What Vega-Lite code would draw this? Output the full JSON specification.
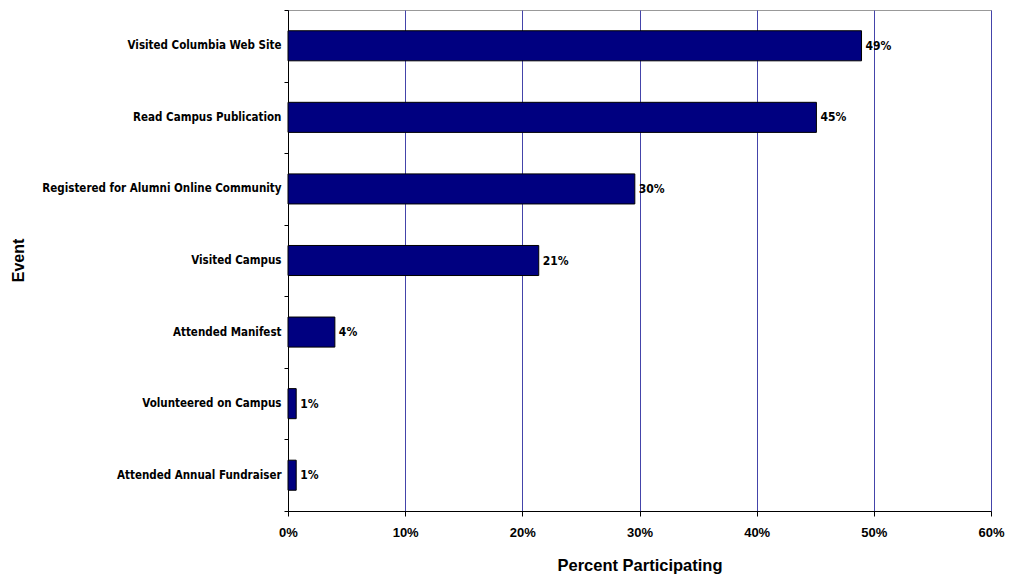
{
  "$schema": "https://vega.github.io/schema/vega-lite/v6.json",
  "autosize": {"type": "none"},
  "padding": {"left": 288, "top": 10, "right": 18, "bottom": 66},
  "width": 703,
  "height": 501,
  "background": "white",
  "config": {
    "view": {"stroke": "#999999", "strokeWidth": 1},
    "font": "Liberation Sans"
  },
  "data": {
    "values": [
      {"event": "Visited Columbia Web Site", "pct": 0.4895},
      {"event": "Read Campus Publication", "pct": 0.451},
      {"event": "Registered for Alumni Online Community", "pct": 0.296},
      {"event": "Visited Campus", "pct": 0.214},
      {"event": "Attended Manifest", "pct": 0.040},
      {"event": "Volunteered on Campus", "pct": 0.007},
      {"event": "Attended Annual Fundraiser", "pct": 0.007}
    ]
  },
  "encoding": {
    "y": {
      "field": "event", "type": "nominal", "sort": null,
      "scale": {"paddingInner": 0, "paddingOuter": 0},
      "axis": {
        "title": "Event", "titleFont": "Liberation Sans", "titleFontSize": 16, "titleFontWeight": "bold",
        "titleX": -262, "titleY": 250, "titleColor": "black",
        "labelFont": "DejaVu Sans Condensed", "labelFontSize": 11.5, "labelFontWeight": "bold", "labelColor": "black",
        "labelLimit": 0,
        "tickBand": "extent", "tickSize": 4, "tickColor": "black", "labelPadding": 3,
        "domainColor": "black", "grid": false
      }
    },
    "x": {
      "field": "pct", "type": "quantitative",
      "scale": {"domain": [0, 0.6], "nice": false},
      "axis": {
        "title": "Percent Participating", "titleFontSize": 16.5, "titleFontWeight": "bold", "titleColor": "black",
        "titleY": 46, "titleBaseline": "top",
        "values": [0, 0.1, 0.2, 0.3, 0.4, 0.5, 0.6], "format": ".0%",
        "labelFontSize": 13, "labelFontWeight": "bold", "labelColor": "black", "labelPadding": 10,
        "labelFlush": false, "labelBound": false, "labelOverlap": false,
        "tickSize": 5, "tickColor": "black", "domainColor": "black",
        "grid": true, "gridColor": "#4444aa", "gridOpacity": 1
      }
    }
  },
  "layer": [
    {"mark": {"type": "bar", "height": {"band": 0.42}, "fill": "#000080", "stroke": "black", "strokeWidth": 1}},
    {
      "mark": {"type": "text", "align": "left", "dx": 4, "fontWeight": "bold", "fontSize": 12, "font": "DejaVu Sans Condensed", "color": "black"},
      "encoding": {"text": {"field": "pct", "type": "quantitative", "format": ".0%"}}
    }
  ]
}
